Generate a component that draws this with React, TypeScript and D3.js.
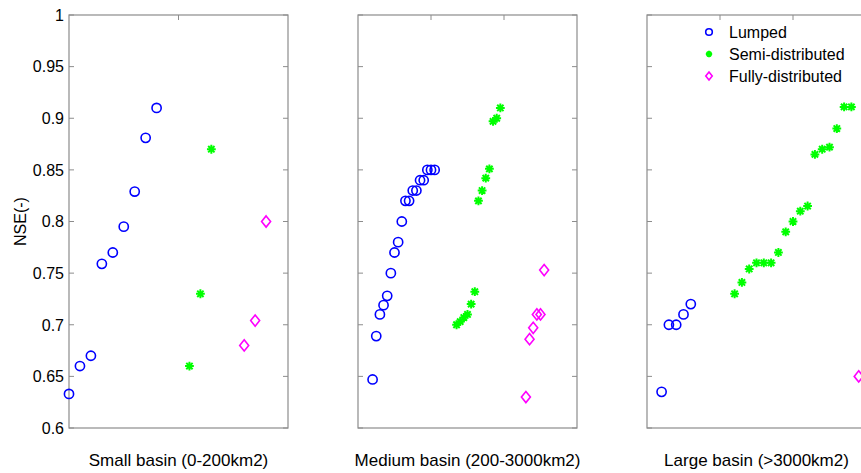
import React, { useRef, useEffect } from "react";
import * as d3 from "d3";

const width = 861;
const height = 473;
const top = 15;
const bottom = 428;
const panelWidth = 219;
const panelLefts = [69, 358, 647];

const yTicks = [0.6, 0.65, 0.7, 0.75, 0.8, 0.85, 0.9, 0.95, 1];

const basinLabels = [
  "Small basin (0-200km2)",
  "Medium basin (200-3000km2)",
  "Large basin (>3000km2)",
];
const xMaxes = [20, 60, 30];
const xTicks = [[10], [20, 40], [10, 20]];

// NSE values, plotted at consecutive x positions from a start index
const smallLumped = [0.633, 0.66, 0.67, 0.759, 0.77, 0.795, 0.829, 0.881, 0.91];
const smallSemi = [0.66, 0.73, 0.87];
const smallFully = [0.68, 0.704, 0.8];
const smallStarts = [0, 11, 16];

const mediumLumped = [
  0.647, 0.689, 0.71, 0.719, 0.728, 0.75, 0.77, 0.78, 0.8, 0.82, 0.82, 0.83,
  0.83, 0.84, 0.84, 0.85, 0.85, 0.85,
];
const mediumSemi = [
  0.7, 0.703, 0.707, 0.71, 0.72, 0.732, 0.82, 0.83, 0.842, 0.851, 0.897, 0.9,
  0.91,
];
const mediumFully = [0.63, 0.686, 0.697, 0.71, 0.71, 0.753];
const mediumStarts = [4, 27, 46];

const largeLumped = [0.635, 0.7, 0.7, 0.71, 0.72];
const largeSemi = [
  0.73, 0.741, 0.754, 0.76, 0.76, 0.76, 0.77, 0.79, 0.8, 0.81, 0.815, 0.865,
  0.87, 0.872, 0.89, 0.911, 0.911,
];
const largeFully = [0.65];
const largeStarts = [2, 12, 29];

const seriesNames = ["Lumped", "Semi-distributed", "Fully-distributed"];
const seriesColors = ["#0000ff", "#00ff00", "#ff00ff"];

const panelData = [
  { values: [smallLumped, smallSemi, smallFully], starts: smallStarts },
  { values: [mediumLumped, mediumSemi, mediumFully], starts: mediumStarts },
  { values: [largeLumped, largeSemi, largeFully], starts: largeStarts },
];

const font = "Liberation Sans, Arial, sans-serif";
const axisColor = "#8c8c8c";

const starPath = (s) =>
  `M${-s},0L${s},0M0,${-s}L0,${s}M${-s * 0.72},${-s * 0.72}L${s * 0.72},${s * 0.72}M${-s * 0.72},${s * 0.72}L${s * 0.72},${-s * 0.72}`;
const diamondPath = (w, h) => `M0,${-h}L${w},0L0,${h}L${-w},0Z`;

const drawMarker = (g, type, color, scale) => {
  if (type === 0) {
    g.append("circle")
      .attr("r", 4.6 * scale)
      .attr("fill", "none")
      .attr("stroke", color)
      .attr("stroke-width", 1.6);
  } else if (type === 1) {
    g.append("path")
      .attr("d", starPath(4.4 * scale))
      .attr("fill", "none")
      .attr("stroke", color)
      .attr("stroke-width", 2);
  } else {
    g.append("path")
      .attr("d", diamondPath(4.5 * scale, 5.6 * scale))
      .attr("fill", "none")
      .attr("stroke", color)
      .attr("stroke-width", 1.6);
  }
};

const App = () => {
  const ref = useRef(null);

  useEffect(() => {
    if (!ref.current) return;
    const svg = d3.select(ref.current);
    svg.selectAll("*").remove();

    const y = d3.scaleLinear().domain([0.6, 1]).range([bottom, top]);

    panelData.forEach((panel, p) => {
      const left = panelLefts[p];
      const x = d3
        .scaleLinear()
        .domain([0, xMaxes[p]])
        .range([left, left + panelWidth]);
      const g = svg.append("g");

      // box
      g.append("rect")
        .attr("x", left)
        .attr("y", top)
        .attr("width", panelWidth)
        .attr("height", bottom - top)
        .attr("fill", "none")
        .attr("stroke", axisColor)
        .attr("stroke-width", 1.2);

      // y ticks, both sides, inward
      yTicks.forEach((t) => {
        g.append("line")
          .attr("x1", left)
          .attr("x2", left + 5)
          .attr("y1", y(t))
          .attr("y2", y(t))
          .attr("stroke", axisColor);
        g.append("line")
          .attr("x1", left + panelWidth - 5)
          .attr("x2", left + panelWidth)
          .attr("y1", y(t))
          .attr("y2", y(t))
          .attr("stroke", axisColor);
      });

      // x ticks on top
      xTicks[p].forEach((t) => {
        g.append("line")
          .attr("x1", x(t))
          .attr("x2", x(t))
          .attr("y1", top)
          .attr("y2", top + 5)
          .attr("stroke", axisColor);
      });

      if (p === 0) {
        g.selectAll("text.ytick")
          .data(yTicks)
          .join("text")
          .attr("class", "ytick")
          .attr("x", left - 5)
          .attr("y", (d) => y(d))
          .attr("dy", "0.36em")
          .attr("text-anchor", "end")
          .style("font", `16px ${font}`)
          .attr("fill", "#000")
          .text((d) => d3.format("")(d));

        svg
          .append("text")
          .attr("transform", `translate(26,${(top + bottom) / 2}) rotate(-90)`)
          .attr("text-anchor", "middle")
          .style("font", `16px ${font}`)
          .text("NSE(-)");
      }

      g.append("text")
        .attr("x", left + panelWidth / 2)
        .attr("y", 466)
        .attr("text-anchor", "middle")
        .style("font", `17px ${font}`)
        .text(basinLabels[p]);

      panel.values.forEach((vals, s) => {
        vals.forEach((v, i) => {
          const m = g
            .append("g")
            .attr("transform", `translate(${x(panel.starts[s] + i)},${y(v)})`);
          drawMarker(m, s, seriesColors[s], 1);
        });
      });
    });

    // legend
    const legend = svg.append("g");
    seriesNames.forEach((name, s) => {
      const ly = 32 + s * 22;
      const m = legend.append("g").attr("transform", `translate(709,${ly})`);
      drawMarker(m, s, seriesColors[s], 0.72);
      legend
        .append("text")
        .attr("x", 729)
        .attr("y", ly)
        .attr("dy", "0.36em")
        .style("font", `16px ${font}`)
        .text(name);
    });
  }, []);

  return (
    <svg
      ref={ref}
      width={width}
      height={height}
      style={{ position: "absolute", left: 0, top: 0, background: "#fff" }}
    />
  );
};

export default App;
